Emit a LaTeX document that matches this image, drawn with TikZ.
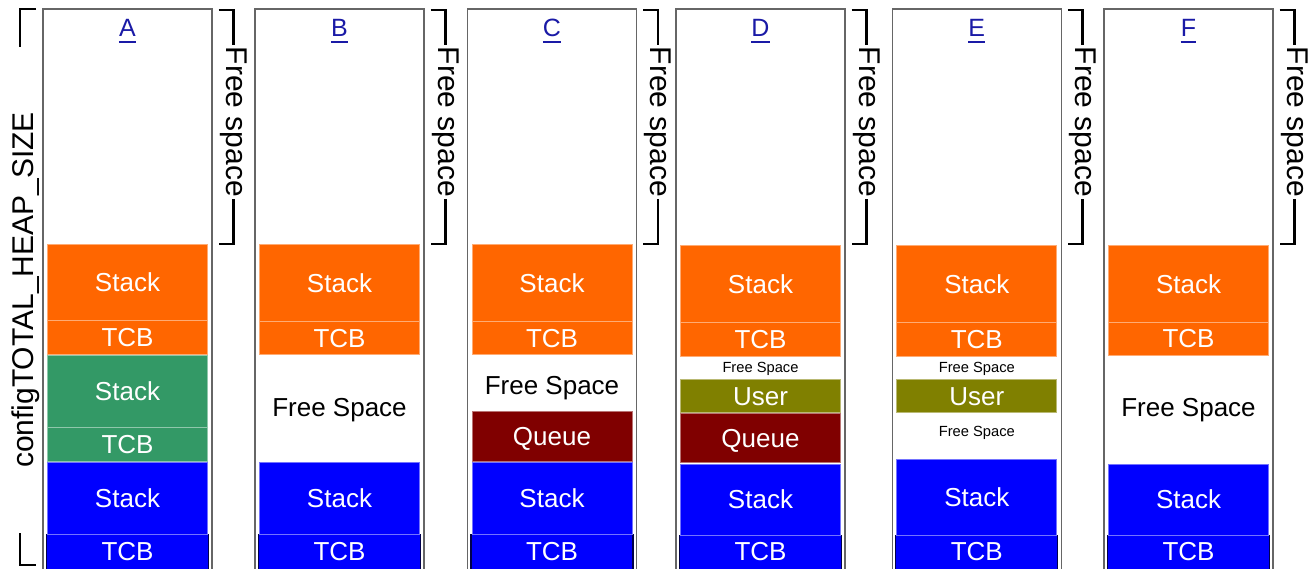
\documentclass[tikz,border=0pt]{standalone}
\usepackage{fontspec}
\setmainfont{Liberation Sans}
\usepackage{tikz}

\definecolor{stkorange}{HTML}{FF6600}
\definecolor{stkgreen}{HTML}{339966}
\definecolor{stkblue}{HTML}{0000FF}
\definecolor{queuered}{HTML}{800000}
\definecolor{userolive}{HTML}{808000}
\definecolor{linkblue}{HTML}{1A1AA6}

\tikzset{
  colbox/.style={draw=black!60, line width=1.2},
  blk/.style={line width=0.9},
  tcbbox/.style={draw=black!70!stkblue, fill=stkblue, line width=1.2},
  lbl/.style={text=white, font=\fontsize{26}{30}\selectfont, inner sep=0, text height=18.6pt, text depth=0pt},
  freelbl/.style={lbl, text=black},
  smallfree/.style={text=black, font=\fontsize{14.7}{17}\selectfont, inner sep=0, text height=10.5pt, text depth=0pt},
  ttl/.style={text=linkblue, font=\fontsize{25}{28}\selectfont, inner sep=0, text height=17.9pt, text depth=0pt},
  brk/.style={line width=2.7, line cap=butt, line join=miter},
  brklbl/.style={font=\fontsize{30}{34}\selectfont, fill=white, inner sep=2, rotate=-90},
}

\begin{document}
\begin{tikzpicture}[x=1pt, y=-1pt]
\useasboundingbox (0,0) rectangle (1312,568);
\clip (0,0) rectangle (1312,568);

% heap size bracket
\draw[brk] (36,9) -- (20,9) -- (20,47);
\draw[brk] (20,533) -- (20,565) -- (36,565);
\node[font=\fontsize{30}{34}\selectfont, rotate=90] (heap) at (25.5,290) {configTOTAL\_HEAP\_SIZE};

% columns
\foreach \x/\nm/\tb in {43/A/534.3, 255/B/534.3, 467.5/C/534.3, 676/D/535.3, 892.3/E/535.3, 1104/F/535.3} {
\draw[colbox] (\x,9) rectangle (\x+169,590);
\draw[tcbbox] (\x+3.5,\tb) rectangle (\x+165.5,590);
\node[lbl] (tcb\nm) at (\x+84.5,551) {TCB};

\node[ttl] (ttl\nm) at (\x+84.5,28) {\nm};
\draw[linkblue, line width=1.8] ([yshift=-5]ttl\nm.south west) -- ([yshift=-5]ttl\nm.south east);

\draw[brk] (\x+175.5,10) -- (\x+190.5,10) -- (\x+190.5,244) -- (\x+175.5,244);
\node[brklbl] (fs\nm) at (\x+190.5,122) {Free space};
}

% blocks
\foreach \x/\yt/\yb/\c/\t [count=\i] in {
43/244.7/320.5/stkorange/Stack, 43/320.5/354.7/stkorange/TCB,
43/355.7/427/stkgreen/Stack, 43/427/461/stkgreen/TCB, 43/462.7/534.3/stkblue/Stack,
255/244.7/321/stkorange/Stack, 255/321/354.7/stkorange/TCB, 255/462.7/534.3/stkblue/Stack,
467.5/244.7/321/stkorange/Stack, 467.5/321/354.7/stkorange/TCB,
467.5/411.7/461.3/queuered/Queue, 467.5/462.7/534.3/stkblue/Stack,
676/245.7/322.3/stkorange/Stack, 676/322.3/356/stkorange/TCB,
676/379.7/412.3/userolive/User, 676/413.7/462.7/queuered/Queue, 676/464/535.3/stkblue/Stack,
892.3/245.7/322.3/stkorange/Stack, 892.3/322.3/356/stkorange/TCB,
892.3/379.7/412.3/userolive/User, 892.3/459.3/535.3/stkblue/Stack,
1104/245.7/322/stkorange/Stack, 1104/322/355.3/stkorange/TCB, 1104/464/535.3/stkblue/Stack} {
\draw[blk, fill=\c, draw=\c!55!white] (\x+4.5,\yt) rectangle (\x+164.5,\yb);
\node[lbl] (blk\i) at (\x+84.5,{(\yt+\yb)/2}) {\t};
}

% free space labels
\node[freelbl] (freeB) at (339.5,407) {Free Space};
\node[freelbl] (freeC) at (552,385) {Free Space};
\node[freelbl] (freeF) at (1188.5,407.5) {Free Space};
\node[smallfree] (freeD) at (760.5,367.7) {Free Space};
\node[smallfree] (freeE) at (976.8,367.7) {Free Space};
\node[smallfree] (freeEE) at (976.8,431.7) {Free Space};

\end{tikzpicture}
\end{document}
